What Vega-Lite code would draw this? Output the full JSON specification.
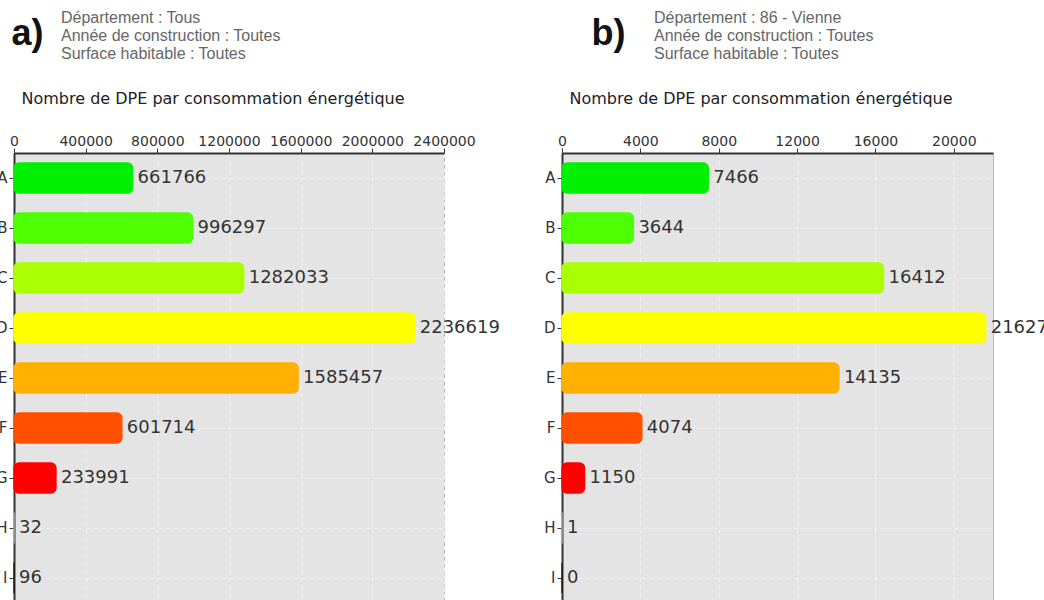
{
  "$schema": "https://vega.github.io/schema/vega-lite/v6.json",
  "background": "white",
  "padding": {"left": -6, "top": 9, "right": 0, "bottom": 0},
  "datasets": {
    "tous": [
      {"classe": "A", "n": 661766},
      {"classe": "B", "n": 996297},
      {"classe": "C", "n": 1282033},
      {"classe": "D", "n": 2236619},
      {"classe": "E", "n": 1585457},
      {"classe": "F", "n": 601714},
      {"classe": "G", "n": 233991},
      {"classe": "H", "n": 32},
      {"classe": "I", "n": 96}
    ],
    "vienne": [
      {"classe": "A", "n": 7466},
      {"classe": "B", "n": 3644},
      {"classe": "C", "n": 16412},
      {"classe": "D", "n": 21627},
      {"classe": "E", "n": 14135},
      {"classe": "F", "n": 4074},
      {"classe": "G", "n": 1150},
      {"classe": "H", "n": 1},
      {"classe": "I", "n": 0}
    ]
  },
  "config": {
    "font": "DejaVu Sans",
    "axis": {
      "gridColor": "#ffffff",
      "gridDash": [4, 4],
      "gridOpacity": 0.55
    },
    "title": {
      "font": "Liberation Sans",
      "fontSize": 16,
      "fontWeight": "normal",
      "color": "#666666",
      "anchor": "start",
      "frame": "group",
      "lineHeight": 18
    }
  },
  "hconcat": [
    {
      "width": 430,
      "height": 450,
      "view": {"fill": "#e4e4e4", "stroke": "#b0b0b0", "strokeDash": [4, 3]},
      "title": {
        "text": ["Département : Tous", "Année de construction : Toutes", "Surface habitable : Toutes"],
        "dx": 47,
        "offset": -47
      },
      "data": {"name": "tous"},
      "encoding": {
        "y": {
          "field": "classe",
          "type": "nominal",
          "scale": {"paddingInner": 0.4, "paddingOuter": 0.2},
          "axis": {
            "title": "a)",
            "titleAngle": 0,
            "titleFont": "Liberation Sans",
            "titleFontSize": 36,
            "titleFontWeight": "bold",
            "titleColor": "#111111",
            "titleAlign": "left",
            "titleBaseline": "alphabetic",
            "titleX": -3,
            "titleY": -109,
            "labelFont": "DejaVu Sans",
            "labelFontSize": 15,
            "labelColor": "#333333",
            "domainColor": "#333333",
            "domainWidth": 2,
            "tickColor": "#333333",
            "tickSize": 5,
            "labelPadding": 2,
            "grid": true,
            "bandPosition": 0.5
          }
        }
      },
      "layer": [
        {
          "mark": {"type": "bar", "cornerRadius": 5, "strokeWidth": 1.5},
          "encoding": {
            "x": {
              "field": "n",
              "type": "quantitative",
              "scale": {"domain": [0, 2400000], "nice": false},
              "axis": {
                "orient": "top",
                "values": [0, 400000, 800000, 1200000, 1600000, 2000000, 2400000],
                "format": "d",
                "labelOverlap": false,
                "labelFlush": false,
                "labelFont": "DejaVu Sans",
                "labelFontSize": 14,
                "labelColor": "#333333",
                "domainColor": "#333333",
                "domainWidth": 2,
                "tickColor": "#333333",
                "grid": true,
                "tickSize": 5,
                "labelPadding": 0,
                "title": "Nombre de DPE par consommation énergétique",
                "titleFont": "DejaVu Sans",
                "titleFontSize": 16,
                "titleFontWeight": "normal",
                "titleColor": "#222222",
                "titleAnchor": "start",
                "titleAlign": "left",
                "titleX": 7,
                "titlePadding": 28
              }
            },
            "color": {
              "field": "classe",
              "type": "nominal",
              "scale": {
                "domain": ["A", "B", "C", "D", "E", "F", "G", "H", "I"],
                "range": ["#00f000", "#4dff00", "#aaff00", "#ffff00", "#ffb000", "#ff5000", "#ff0000", "#a8a8a8", "#222222"]
              },
              "legend": null
            },
            "stroke": {
              "field": "classe",
              "type": "nominal",
              "scale": {
                "domain": ["A", "B", "C", "D", "E", "F", "G", "H", "I"],
                "range": ["#00f000", "#4dff00", "#aaff00", "#ffff00", "#ffb000", "#ff5000", "#ff0000", "#a8a8a8", "#222222"]
              },
              "legend": null
            }
          }
        },
        {
          "mark": {"type": "text", "align": "left", "baseline": "middle", "dx": 5, "font": "DejaVu Sans", "fontSize": 18, "color": "#333333"},
          "encoding": {
            "x": {"field": "n", "type": "quantitative"},
            "text": {"field": "n", "type": "quantitative", "format": "d"}
          }
        }
      ]
    },
    {
      "width": 431,
      "height": 450,
      "view": {"fill": "#e4e4e4", "stroke": "#bbbbbb"},
      "title": {
        "text": ["Département : 86 - Vienne", "Année de construction : Toutes", "Surface habitable : Toutes"],
        "dx": 92,
        "offset": -47
      },
      "data": {"name": "vienne"},
      "encoding": {
        "y": {
          "field": "classe",
          "type": "nominal",
          "scale": {"paddingInner": 0.4, "paddingOuter": 0.2},
          "axis": {
            "title": "b)",
            "titleAngle": 0,
            "titleFont": "Liberation Sans",
            "titleFontSize": 36,
            "titleFontWeight": "bold",
            "titleColor": "#111111",
            "titleAlign": "left",
            "titleBaseline": "alphabetic",
            "titleX": 29,
            "titleY": -109,
            "labelFont": "DejaVu Sans",
            "labelFontSize": 15,
            "labelColor": "#333333",
            "domainColor": "#333333",
            "domainWidth": 2,
            "tickColor": "#333333",
            "tickSize": 5,
            "labelPadding": 2,
            "grid": true,
            "bandPosition": 0.5
          }
        }
      },
      "layer": [
        {
          "mark": {"type": "bar", "cornerRadius": 5, "strokeWidth": 1.5},
          "encoding": {
            "x": {
              "field": "n",
              "type": "quantitative",
              "scale": {"domain": [0, 22000], "nice": false},
              "axis": {
                "orient": "top",
                "values": [0, 4000, 8000, 12000, 16000, 20000],
                "format": "d",
                "labelOverlap": false,
                "labelFlush": false,
                "labelFont": "DejaVu Sans",
                "labelFontSize": 14,
                "labelColor": "#333333",
                "domainColor": "#333333",
                "domainWidth": 2,
                "tickColor": "#333333",
                "grid": true,
                "tickSize": 5,
                "labelPadding": 0,
                "title": "Nombre de DPE par consommation énergétique",
                "titleFont": "DejaVu Sans",
                "titleFontSize": 16,
                "titleFontWeight": "normal",
                "titleColor": "#222222",
                "titleAnchor": "start",
                "titleAlign": "left",
                "titleX": 7,
                "titlePadding": 28
              }
            },
            "color": {
              "field": "classe",
              "type": "nominal",
              "scale": {
                "domain": ["A", "B", "C", "D", "E", "F", "G", "H", "I"],
                "range": ["#00f000", "#4dff00", "#aaff00", "#ffff00", "#ffb000", "#ff5000", "#ff0000", "#a8a8a8", "#222222"]
              },
              "legend": null
            },
            "stroke": {
              "field": "classe",
              "type": "nominal",
              "scale": {
                "domain": ["A", "B", "C", "D", "E", "F", "G", "H", "I"],
                "range": ["#00f000", "#4dff00", "#aaff00", "#ffff00", "#ffb000", "#ff5000", "#ff0000", "#a8a8a8", "#222222"]
              },
              "legend": null
            }
          }
        },
        {
          "mark": {"type": "text", "align": "left", "baseline": "middle", "dx": 5, "font": "DejaVu Sans", "fontSize": 18, "color": "#333333"},
          "encoding": {
            "x": {"field": "n", "type": "quantitative"},
            "text": {"field": "n", "type": "quantitative", "format": "d"}
          }
        }
      ]
    }
  ],
  "spacing": 118,
  "bounds": "flush",
  "resolve": {"scale": {"x": "independent", "y": "independent", "color": "independent", "stroke": "independent"}}
}
